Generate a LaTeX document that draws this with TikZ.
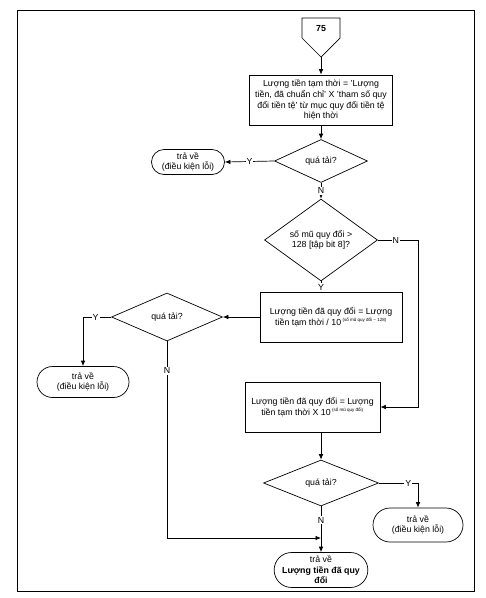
\documentclass[tikz,border=0pt]{standalone}
\usepackage{fontspec}
\setmainfont{Liberation Sans}
\usetikzlibrary{shapes.geometric,shapes.misc,arrows.meta}
\begin{document}
\begin{tikzpicture}[x=1pt,y=-1pt,
  every node/.style={font=\fontsize{8.8}{10.6}\selectfont},
  proc/.style={draw,line width=0.7pt,rectangle,align=center,inner sep=1pt},
  dec/.style={draw,line width=0.7pt,diamond,align=center,inner sep=0pt},
  term/.style={draw,line width=0.7pt,rounded rectangle,align=center,inner sep=1pt},
  conn/.style={line width=0.7pt},
  arr/.style={conn,-{Latex[length=5.5pt,width=4.5pt]}},
  lbl/.style={fill=white,inner sep=1pt}]
\useasboundingbox (0,0) rectangle (486,598);
\draw[line width=1pt] (17,10) rectangle (474,591);
% off-page connector
\draw[conn] (302,18) -- (340,18) -- (340,38) -- (321,57) -- (302,38) -- cycle;
\node (c75) at (321,29) {\bfseries 75};
\coordinate (c75tip) at (321,57);
% nodes
\node[proc,minimum width=143pt,minimum height=50pt] (b1) at (321,100)
  {Lượng tiền tạm thời = 'Lượng\\tiền, đã chuẩn chỉ' X 'tham số quy\\đổi tiền tệ' từ mục quy đổi tiền tệ\\hiện thời};
\node[dec,minimum width=93pt,minimum height=43pt] (d1) at (321,161) {quá tải?};
\node[term,minimum width=75pt,minimum height=25pt] (t1) at (188,162) {trả về\\(điều kiện lỗi)};
\node[dec,minimum width=113pt,minimum height=56pt] (d2) at (321,240) {số mũ quy đổi >\\128 [tập bit 8]?};
\node[proc,minimum width=142pt,minimum height=50pt] (b2) at (331,317)
  {Lượng tiền đã quy đổi = Lượng\\tiền tạm thời / 10\,\textsuperscript{\fontsize{4.5}{5}\selectfont(số mũ quy đổi − 128)}};
\node[dec,minimum width=111pt,minimum height=48pt] (d3) at (167,317) {quá tải?};
\node[term,minimum width=94pt,minimum height=31pt] (t2) at (83,382) {trả về\\(điều kiện lỗi)};
\node[proc,minimum width=135pt,minimum height=50pt] (b3) at (312.5,407)
  {Lượng tiền đã quy đổi = Lượng\\tiền tạm thời X 10\,\textsuperscript{\fontsize{4.5}{5}\selectfont(số mũ quy đổi)}};
\node[dec,minimum width=115pt,minimum height=46pt] (d4) at (321,483) {quá tải?};
\node[term,minimum width=92pt,minimum height=34pt] (t3) at (418,525) {trả về\\(điều kiện lỗi)};
\node[term,minimum width=81pt,minimum height=35pt] (t4) at (321,570) {trả về\\\textbf{Lượng tiền đã quy}\\\textbf{đổi}};
\coordinate (j) at (321,538);
% connectors
\draw[arr] (c75tip) -- (b1.north);
\draw[arr] (b1.south) -- (d1.north);
\draw[arr] (d1.west) -- node[lbl]{Y} (t1.east);
\draw[arr] (d1.south) -- node[lbl]{N} (d2.north);
\draw[arr] (d2.east) -- node[lbl,pos=0.45]{N} ++(40,0) |- (b3.east);
\draw[arr] (d2.south) -- node[lbl,pos=0.55]{Y} (d2.south |- b2.north);
\draw[arr] (b2.west) -- (d3.east);
\draw[arr] (d3.west) -- node[lbl,pos=0.55]{Y} (t2.north |- d3.west) -- (t2.north);
\draw[arr] (d3.south) -- node[lbl,pos=0.15]{N} (d3.south |- j) -- (j);
\draw[arr] (b3.south -| d4.north) -- (d4.north);
\draw[arr] (d4.east) -- node[lbl,pos=0.75]{Y} (t3.north |- d4.east) -- (t3.north);
\draw[arr] (d4.south) -- node[lbl,pos=0.3]{N} (t4.north);
\end{tikzpicture}
\end{document}
